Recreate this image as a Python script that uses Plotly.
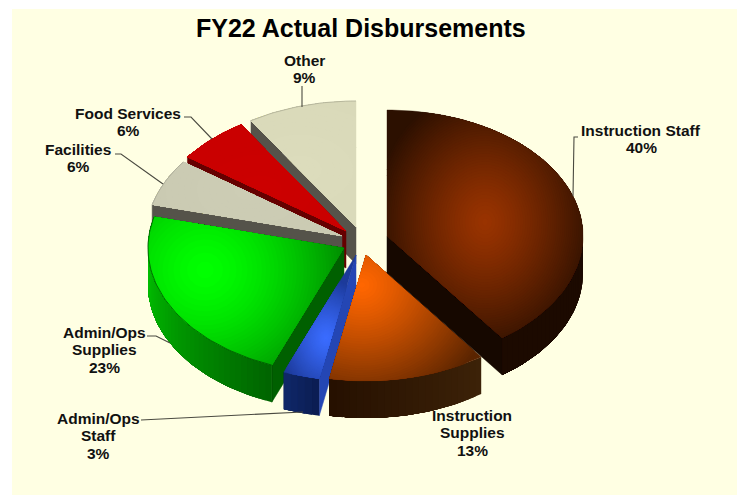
import math
import plotly.graph_objects as go

# ---- data ----
categories = ["Instruction Staff", "Instruction\nSupplies", "Admin/Ops\nStaff", "Admin/Ops\nSupplies",
              "Facilities", "Food Services", "Other"]
values = [40, 13, 3, 23, 6, 6, 9]
title_text = "FY22 Actual Disbursements"

# ---- geometry / style ----
W, H = 737, 495
CX, CY = 355, 240
RX, RY, DEPTH = 196, 126, 37
explode = [(32, -4), (11, 15), (1, 15), (-11, 8), (-13, -4), (-9, -9), (1, -13)]
draw_order = [6, 5, 4, 3, 2, 1, 0]
# highlight centre, reach, bright colour, dark colour, gamma
top_style = {
    0: ((485, 222), (112, 135), "#993300", "#2c1000", 1.25),
    1: ((362, 285), (135, 125), "#ff6600", "#5a2400", 1.2),
    2: ((326, 338), (48, 60), "#3a6cff", "#1c3a9a", 1.2),
    3: ((205, 270), (180, 175), "#00ff00", "#005a00", 1.5),
    4: ((250, 190), (300, 200), "#cdcdb5", "#c4c4ac", 1),
    5: ((260, 190), (300, 200), "#cc0000", "#c40000", 1),
    6: ((300, 170), (300, 200), "#dcdcbc", "#d4d4b4", 1),
}
wall_style = {  # outer wall colours at start/end angle, cut-face colour
    0: ("#1c0a00", "#1c0a00", "#160800"),
    1: ("#3c2208", "#261000", "#260f00"),
    2: ("#0a1c50", "#10286a", "#2446b4"),
    3: ("#006400", "#00c400", "#006000"),
    4: ("#55534a", "#55534a", "#55534a"),
    5: ("#660000", "#660000", "#660000"),
    6: ("#55534a", "#55534a", "#55534a"),
}
rim_colour = {3: "#004000", 4: "#a4a492", 6: "#a8a890"}
leaders = [
    [(578, 137), (574, 137), (573, 196)],
    None,
    [(141, 420), (303, 412)],
    [(147, 336), (156, 336), (170, 343)],
    [(115, 154), (121, 154), (163, 184)],
    [(184, 117), (191, 117), (212, 139)],
    [(302, 86), (302, 107)],
]
label_pos = [(641, 130), (472, 415), (98, 418), (104, 332), (78, 149), (128, 113), (304, 60)]
LINE = 17.5
LEVELS = 48
FONT = "Liberation Sans"


def rgb(h):
    return tuple(int(h[i:i + 2], 16) for i in (1, 3, 5))


def mix(a, b, t):
    a, b = rgb(a), rgb(b)
    return "#%02x%02x%02x" % tuple(round(a[i] + (b[i] - a[i]) * t) for i in range(3))


def pt(cx, cy, ang):
    r = math.radians(ang)
    return cx + RX * math.sin(r), cy - RY * math.cos(r)


def clip_convex(subject, clipper):
    """Sutherland-Hodgman clip of a polygon by a convex, clockwise-on-screen polygon."""
    out = subject
    m = len(clipper)
    for j in range(m):
        ax, ay = clipper[j]
        bx, by = clipper[(j + 1) % m]
        ex, ey = bx - ax, by - ay
        if abs(ex) + abs(ey) < 1e-9:
            continue
        side = lambda p: ex * (p[1] - ay) - ey * (p[0] - ax)
        res = []
        for k in range(len(out)):
            p, q = out[k], out[(k + 1) % len(out)]
            sp, sq = side(p), side(q)
            if sp >= 0:
                res.append(p)
            if (sp >= 0) != (sq >= 0):
                u = sp / (sp - sq)
                res.append((p[0] + (q[0] - p[0]) * u, p[1] + (q[1] - p[1]) * u))
        out = res
        if not out:
            break
    return out


fig = go.Figure()


def add_poly(p, color, lw=0):
    fig.add_trace(go.Scatter(x=[q[0] for q in p] + [p[0][0]], y=[q[1] for q in p] + [p[0][1]],
                             mode="lines", fill="toself", fillcolor=color,
                             line=dict(color=color, width=lw), hoverinfo="skip", showlegend=False))


def add_line(points, color, width=1.0):
    fig.add_trace(go.Scatter(x=[p[0] for p in points], y=[p[1] for p in points], mode="lines",
                             line=dict(color=color, width=width), hoverinfo="skip", showlegend=False))


total = sum(values)
angles, acc = [], 0.0
for v in values:
    angles.append((acc / total * 360, (acc + v) / total * 360))
    acc += v

for i in draw_order:
    a, b = angles[i]
    cx, cy = CX + explode[i][0], CY + explode[i][1]
    c0, c1, cut = wall_style[i]
    # cut faces facing the viewer
    for ang, sign in ((b, 1), (a, -1)):
        if sign * math.sin(math.radians(ang)) > 1e-6:
            e = pt(cx, cy, ang)
            add_poly([(cx, cy), e, (e[0], e[1] + DEPTH), (cx, cy + DEPTH)], cut, 0.5)
            if i in rim_colour and i == 3:
                add_line([e, (e[0], e[1] + DEPTH)], rim_colour[i], 0.7)
    # outer wall: nested shrinking pieces, so no seams show
    lo, hi = max(a, 90), min(b, 270)
    if hi > lo:
        n = max(2, int((hi - lo) / 2))
        for k in range(n):
            t0 = lo + (hi - lo) * k / n
            steps = max(2, int((hi - t0) / 1.5))
            arc = [pt(cx, cy, t0 + (hi - t0) * s / steps) for s in range(steps + 1)]
            add_poly(arc + [(q[0], q[1] + DEPTH) for q in reversed(arc)], mix(c0, c1, (k + .5) / n))
    # top face: sector painted dark, then nested ellipses clipped to it
    (hx, hy), (sx, sy), bright, dark, g = top_style[i]
    nt = max(4, int((b - a) / 1.5))
    sector = [(cx, cy)] + [pt(cx, cy, a + (b - a) * s / nt) for s in range(nt + 1)]
    add_poly(sector, dark, 0.4)
    for lev in range(LEVELS - 1, -1, -1):
        reach = ((lev + 0.5) / LEVELS) ** (1 / g)
        ell = [(hx + sx * reach * math.cos(s * math.pi / 60), hy + sy * reach * math.sin(s * math.pi / 60))
               for s in range(120)]
        piece = clip_convex(ell, sector)
        if len(piece) >= 3:
            add_poly(piece, mix(bright, dark, lev / LEVELS))
    if i in rim_colour:
        add_line(sector[1:], rim_colour[i], 0.7)

# leader lines
for seg in leaders:
    if seg:
        add_line(seg, "#4a4a40", 1.1)

annotations = []
for name, v, (lx, ly) in zip(categories, values, label_pos):
    rows = name.split("\n") + [f"{v}%"]
    for r, row in enumerate(rows):
        annotations.append(dict(x=lx, y=ly + r * LINE, text=f"<b>{row}</b>", showarrow=False,
                                xref="x", yref="y", xanchor="center", yanchor="middle",
                                font=dict(family=FONT, size=15.5, color="#111111")))
annotations.append(dict(x=361, y=28, text=f"<b>{title_text}</b>", showarrow=False, xref="x", yref="y",
                        xanchor="center", yanchor="middle",
                        font=dict(family=FONT, size=25, color="#000000")))

fig.update_layout(
    width=W, height=H, autosize=False, margin=dict(l=0, r=0, t=0, b=0),
    paper_bgcolor="#ffffff", plot_bgcolor="#ffffff", showlegend=False,
    xaxis=dict(range=[0, W], visible=False, fixedrange=True),
    yaxis=dict(range=[H, 0], visible=False, fixedrange=True),
    annotations=annotations,
    shapes=[dict(type="rect", xref="x", yref="y", x0=12, y0=9, x1=W, y1=H, layer="below",
                 fillcolor="#ffffe3", line=dict(width=0))],
)
fig.write_html("out.html", config=dict(displayModeBar=False),
               post_script="document.body.style.margin='0';document.body.style.overflow='hidden';")
